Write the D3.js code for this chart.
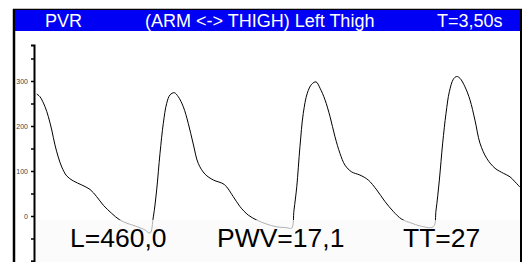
<!DOCTYPE html>
<html>
<head>
<meta charset="utf-8">
<script src="https://cdn.jsdelivr.net/npm/d3@7"></script>
<style>
  body { margin: 0; background: #fff; }
  #plot { width: 523px; height: 262px; }
  text { font-family: Arial, "Liberation Sans", sans-serif; }
</style>
</head>
<body>
<div id="plot"></div>
<script>
// waveform samples: time in seconds, pressure
var timeS = [0.012, 0.036, 0.072, 0.096, 0.121, 0.144, 0.168, 0.193, 0.229, 0.276,
             0.337, 0.397, 0.445, 0.493, 0.553, 0.613, 0.681, 0.722, 0.794, 0.830,
             0.854, 0.878, 0.902, 0.926, 0.950, 0.974, 1.005, 1.034, 1.070, 1.106,
             1.142, 1.178, 1.227, 1.287, 1.366, 1.431, 1.479, 1.539, 1.600, 1.672,
             1.744, 1.816, 1.852, 1.869, 1.889, 1.912, 1.936, 1.965, 1.997, 2.028,
             2.057, 2.093, 2.129, 2.165, 2.201, 2.237, 2.285, 2.345, 2.405, 2.466,
             2.526, 2.586, 2.646, 2.718, 2.778, 2.874, 2.894, 2.918, 2.942, 2.966,
             2.990, 3.019, 3.043, 3.067, 3.103, 3.139, 3.175, 3.211, 3.260, 3.320,
             3.380, 3.428, 3.464, 3.500];
var pvr = [271, 265, 243, 221, 191, 158, 131, 109, 89, 78,
           69, 59, 43, 24, 6, -9, -18, -22, -31, -38,
           -2, 58, 139, 206, 250, 269, 274, 265, 243, 206,
           160, 117, 93, 80, 70, 43, 21, 2, -9, -18,
           -24, -26, -27, 13, 65, 154, 228, 273, 293, 298,
           284, 258, 221, 176, 139, 113, 98, 91, 80, 58,
           32, 10, -7, -16, -22, -24, 13, 80, 162, 228,
           276, 304, 310, 306, 287, 258, 213, 162, 128, 106,
           95, 87, 76, 64];

var yTicks = [-100, -50, 0, 50, 100, 150, 200, 250, 300, 350];
var yLabels = [0, 100, 200, 300];

var titleParts = ["PVR", "(ARM <-> THIGH) Left Thigh", "T=3,50s"];
var results = ["L=460,0", "PWV=17,1", "TT=27"];

var view = {
    w: 523,
    h: 262,
    left: 35,
    right: 520,
    top: 45,
    bottom: 261
};

var svg = d3.select("#plot")
            .append("svg")
            .attr("width", view.w)
            .attr("height", view.h);

var xScale = d3.scaleLinear()
               .domain([0, 3.5])
               .range([view.left, view.right]),
    yScale = d3.scaleLinear()
               .domain([-100, 380])
               .range([view.bottom, view.top]);

// frame
svg.append("line")
    .attr("x1", 13).attr("x2", 522)
    .attr("y1", 9.5).attr("y2", 9.5)
    .style("stroke", "#000").style("stroke-width", 1.5);
svg.append("line")
    .attr("x1", 14).attr("x2", 14)
    .attr("y1", 9).attr("y2", view.h)
    .style("stroke", "#000").style("stroke-width", 2.5);
svg.append("line")
    .attr("x1", 521).attr("x2", 521)
    .attr("y1", 9).attr("y2", view.h)
    .style("stroke", "#000").style("stroke-width", 2);

// title bar
svg.append("rect")
    .attr("x", 15).attr("y", 10)
    .attr("width", 505).attr("height", 21)
    .style("fill", "#0000f5");

var titleX = [45, 145, 437];
svg.selectAll(".title")
    .data(titleParts)
    .enter().append("text")
    .attr("class", "title")
    .attr("x", function(d, i){ return titleX[i]; })
    .attr("y", 27)
    .style("font-size", "18px")
    .style("fill", "#fff")
    .text(function(d){ return d; });

// y axis
var yAxis = d3.axisLeft(yScale)
              .tickValues(yTicks)
              .tickSizeInner(3)
              .tickSizeOuter(3)
              .tickPadding(2)
              .tickFormat(function(d){ return yLabels.indexOf(d) >= 0 ? d : ""; });

var g_axis = svg.append("g")
    .attr("transform", "translate(34, 0)")
    .call(yAxis);
g_axis.select(".domain")
    .style("stroke", "#000")
    .style("stroke-width", 2);
g_axis.selectAll(".tick line")
    .style("stroke", "#000")
    .style("stroke-width", 1.5);
g_axis.selectAll(".tick text")
    .style("font-size", "7px")
    .style("fill", "#444")
    .attr("dx", "-1");

// waveform
var points = timeS.map(function(t, i){ return [t, pvr[i]]; });
var line = d3.line()
             .x(function(d){ return xScale(d[0]); })
             .y(function(d){ return yScale(d[1]); })
             .curve(d3.curveCatmullRom.alpha(0.5));

svg.append("path")
    .datum(points)
    .attr("d", line)
    .style("fill", "none")
    .style("stroke", "#000")
    .style("stroke-width", 1);

// result panel
svg.append("rect")
    .attr("x", 36).attr("y", 220)
    .attr("width", 484).attr("height", 42)
    .style("fill", "#f9f9f9")
    .style("opacity", 0.7);

var resultX = [70, 217, 403];
svg.selectAll(".result")
    .data(results)
    .enter().append("text")
    .attr("class", "result")
    .attr("x", function(d, i){ return resultX[i]; })
    .attr("y", 247)
    .style("font-size", "26.5px")
    .style("fill", "#000")
    .text(function(d){ return d; });
</script>
</body>
</html>
